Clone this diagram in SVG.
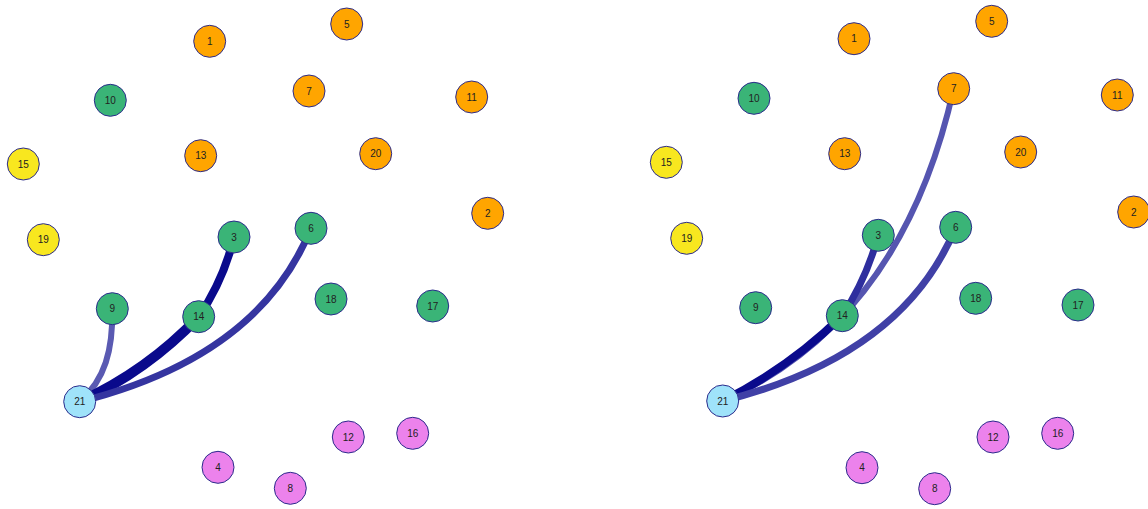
<svg xmlns="http://www.w3.org/2000/svg" width="1148" height="509" viewBox="0 0 1148 509">
<style>
.n circle{stroke:#2b2b8c;stroke-width:1}
.n text{font-family:"Liberation Sans",Arial,sans-serif;font-size:10px;fill:#222;text-anchor:middle;dominant-baseline:central}
.o circle{fill:#ffa500}
.g circle{fill:#3ab477}
.y circle{fill:#f8e71f}
.v circle{fill:#ec82ec}
.b circle{fill:#9fe3fa}
#edges path{fill:none;stroke-linecap:butt}
</style>
<rect width="1148" height="509" fill="#ffffff"/>
<g id="edges">
<path d="M112.3,308.7 C113,350 105,380 79.7,401.7" stroke="#5a5ab2" stroke-width="6"/>
<path d="M234,237 Q223.7,280 198.7,316.7" stroke="#0a0a8c" stroke-width="8"/>
<path d="M198.7,316.7 Q147,371 79.7,401.7" stroke="#0a0a8c" stroke-width="10"/>
<path d="M311,228.3 Q259,357 79.7,401.7" stroke="#3535a0" stroke-width="7"/>
<path d="M953.7,88.7 Q901.8,321.2 722.7,401" stroke="#5555b0" stroke-width="6"/>
<path d="M878.3,235.3 Q866.7,278.3 842.3,315.7" stroke="#2e2e9e" stroke-width="7"/>
<path d="M842.3,315.7 Q789,368 722.7,401" stroke="#0a0a8c" stroke-width="8"/>
<path d="M955.7,227.3 Q903,356 722.7,401" stroke="#4040a6" stroke-width="7"/>
</g>
<g id="L1" class="n o"><circle cx="209.7" cy="41.3" r="16"/><text x="209.7" y="41.3">1</text></g>
<g id="L5" class="n o"><circle cx="346.7" cy="24" r="16"/><text x="346.7" y="24">5</text></g>
<g id="L7" class="n o"><circle cx="309" cy="91" r="16"/><text x="309" y="91">7</text></g>
<g id="L11" class="n o"><circle cx="471.7" cy="97" r="16"/><text x="471.7" y="97">11</text></g>
<g id="L10" class="n g"><circle cx="110.3" cy="100.3" r="16"/><text x="110.3" y="100.3">10</text></g>
<g id="L13" class="n o"><circle cx="200.7" cy="155.7" r="16"/><text x="200.7" y="155.7">13</text></g>
<g id="L20" class="n o"><circle cx="375.7" cy="153.7" r="16"/><text x="375.7" y="153.7">20</text></g>
<g id="L15" class="n y"><circle cx="23.3" cy="164" r="16"/><text x="23.3" y="164">15</text></g>
<g id="L2" class="n o"><circle cx="487.7" cy="213.3" r="16"/><text x="487.7" y="213.3">2</text></g>
<g id="L19" class="n y"><circle cx="43.3" cy="239.7" r="16"/><text x="43.3" y="239.7">19</text></g>
<g id="L3" class="n g"><circle cx="234" cy="237" r="16"/><text x="234" y="237">3</text></g>
<g id="L6" class="n g"><circle cx="311" cy="228.3" r="16"/><text x="311" y="228.3">6</text></g>
<g id="L9" class="n g"><circle cx="112.3" cy="308.7" r="16"/><text x="112.3" y="308.7">9</text></g>
<g id="L14" class="n g"><circle cx="198.7" cy="316.7" r="16"/><text x="198.7" y="316.7">14</text></g>
<g id="L18" class="n g"><circle cx="331" cy="299" r="16"/><text x="331" y="299">18</text></g>
<g id="L17" class="n g"><circle cx="432.7" cy="306" r="16"/><text x="432.7" y="306">17</text></g>
<g id="L21" class="n b"><circle cx="79.7" cy="401.7" r="16"/><text x="79.7" y="401.7">21</text></g>
<g id="L12" class="n v"><circle cx="348.3" cy="437" r="16"/><text x="348.3" y="437">12</text></g>
<g id="L16" class="n v"><circle cx="412.7" cy="433.3" r="16"/><text x="412.7" y="433.3">16</text></g>
<g id="L4" class="n v"><circle cx="218" cy="467.3" r="16"/><text x="218" y="467.3">4</text></g>
<g id="L8" class="n v"><circle cx="290.3" cy="488.3" r="16"/><text x="290.3" y="488.3">8</text></g>
<g id="R1" class="n o"><circle cx="854" cy="38.7" r="16"/><text x="854" y="38.7">1</text></g>
<g id="R5" class="n o"><circle cx="991.7" cy="21.3" r="16"/><text x="991.7" y="21.3">5</text></g>
<g id="R7" class="n o"><circle cx="953.7" cy="88.7" r="16"/><text x="953.7" y="88.7">7</text></g>
<g id="R11" class="n o"><circle cx="1117.3" cy="95" r="16"/><text x="1117.3" y="95">11</text></g>
<g id="R10" class="n g"><circle cx="754" cy="98.3" r="16"/><text x="754" y="98.3">10</text></g>
<g id="R13" class="n o"><circle cx="844.7" cy="153.7" r="16"/><text x="844.7" y="153.7">13</text></g>
<g id="R20" class="n o"><circle cx="1020.7" cy="152" r="16"/><text x="1020.7" y="152">20</text></g>
<g id="R15" class="n y"><circle cx="666.3" cy="162.3" r="16"/><text x="666.3" y="162.3">15</text></g>
<g id="R2" class="n o"><circle cx="1133.7" cy="212" r="16"/><text x="1133.7" y="212">2</text></g>
<g id="R19" class="n y"><circle cx="686.7" cy="238.3" r="16"/><text x="686.7" y="238.3">19</text></g>
<g id="R3" class="n g"><circle cx="878.3" cy="235.3" r="16"/><text x="878.3" y="235.3">3</text></g>
<g id="R6" class="n g"><circle cx="955.7" cy="227.3" r="16"/><text x="955.7" y="227.3">6</text></g>
<g id="R9" class="n g"><circle cx="755.7" cy="307.7" r="16"/><text x="755.7" y="307.7">9</text></g>
<g id="R14" class="n g"><circle cx="842.3" cy="315.7" r="16"/><text x="842.3" y="315.7">14</text></g>
<g id="R18" class="n g"><circle cx="975.7" cy="298.3" r="16"/><text x="975.7" y="298.3">18</text></g>
<g id="R17" class="n g"><circle cx="1078" cy="305" r="16"/><text x="1078" y="305">17</text></g>
<g id="R21" class="n b"><circle cx="722.7" cy="401" r="16"/><text x="722.7" y="401">21</text></g>
<g id="R12" class="n v"><circle cx="993" cy="437" r="16"/><text x="993" y="437">12</text></g>
<g id="R16" class="n v"><circle cx="1057.7" cy="433.3" r="16"/><text x="1057.7" y="433.3">16</text></g>
<g id="R4" class="n v"><circle cx="862" cy="467.7" r="16"/><text x="862" y="467.7">4</text></g>
<g id="R8" class="n v"><circle cx="934.7" cy="488.7" r="16"/><text x="934.7" y="488.7">8</text></g>
</svg>
